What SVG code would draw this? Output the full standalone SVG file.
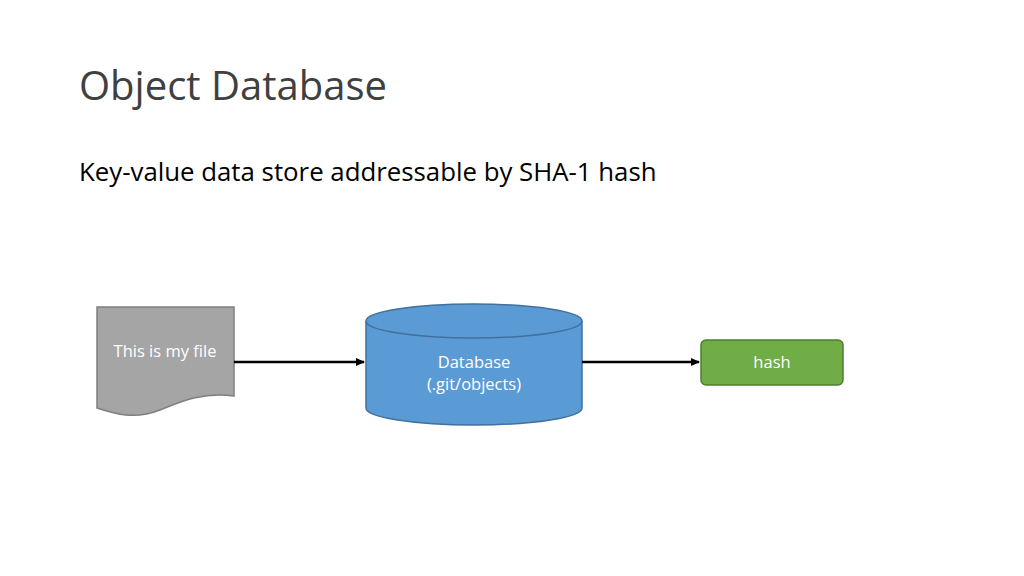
<svg xmlns="http://www.w3.org/2000/svg" width="1024" height="576" viewBox="0 0 1024 576">
<style>
text{font-family:"Open Sans","Liberation Sans",sans-serif}
.lbl{fill:#fff;font-size:16.5px;text-anchor:middle}
.conn{stroke:#000;stroke-width:2.5;fill:none}
</style>
<defs><marker id="ah" markerWidth="10" markerHeight="10" refX="8" refY="5" orient="auto" markerUnits="userSpaceOnUse"><path d="M0,1 L9,5 L0,9 z" fill="#000"/></marker></defs>
<rect width="1024" height="576" fill="#fff"/>
<text x="79" y="100" font-size="40" fill="#404040">Object Database</text>
<text x="79" y="181" font-size="25.8" fill="#000">Key-value data store addressable by SHA-1 hash</text>
<g id="file"><path d="M97,307 H234 V396 C200,392 180,402 160,410 C135,420 115,414 97,408 Z" fill="#a5a5a5" stroke="#7f7f7f" stroke-width="1.5"/><text class="lbl" x="165" y="357">This is my file</text></g>
<g id="db"><path d="M366,321 V408 A108,17 0 0 0 582,408 V321" fill="#5b9bd5" stroke="#41719c" stroke-width="1.5"/><ellipse cx="474" cy="321" rx="108" ry="17" fill="#5b9bd5" stroke="#41719c" stroke-width="1.5"/><text class="lbl" x="474" y="368">Database</text><text class="lbl" x="474" y="390">(.git/objects)</text></g>
<g id="hash"><rect x="701" y="340" width="142" height="45" rx="5" fill="#70ad47" stroke="#507e32" stroke-width="1.5"/><text class="lbl" x="772" y="368">hash</text></g>
<g id="connectors"><line class="conn" x1="234" y1="362" x2="364" y2="362" marker-end="url(#ah)"/><line class="conn" x1="582" y1="362" x2="699" y2="362" marker-end="url(#ah)"/></g>
</svg>
